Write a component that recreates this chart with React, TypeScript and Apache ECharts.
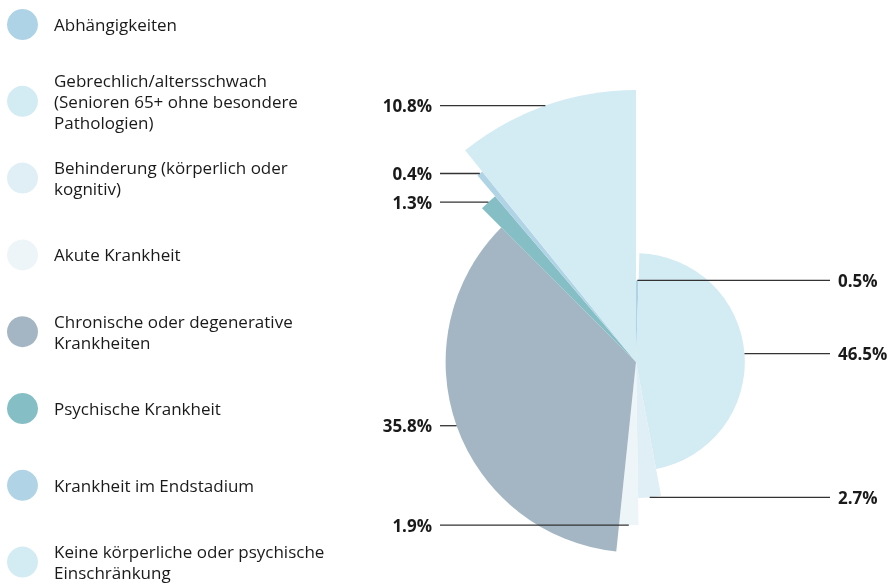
import React, { useEffect, useRef } from "react";
import * as echarts from "echarts";

const categories = [
  "Abhängigkeiten",
  "Gebrechlich/altersschwach\n(Senioren 65+ ohne besondere\nPathologien)",
  "Behinderung (körperlich oder\nkognitiv)",
  "Akute Krankheit",
  "Chronische oder degenerative\nKrankheiten",
  "Psychische Krankheit",
  "Krankheit im Endstadium",
  "Keine körperliche oder psychische\nEinschränkung",
];
const shares = [0.5, 46.5, 2.7, 1.9, 35.8, 1.3, 0.4, 10.8];
const radii = [30, 40, 50, 60, 70, 80, 90, 100];
const colors = ["#aed3e6", "#d3ebf2", "#dfeff5", "#edf5f9", "#a4b6c3", "#85bfc5", "#b0d4e6", "#d3ebf2"];

const FONT = "'Open Sans', 'DejaVu Sans', sans-serif";
const LINE_LEFT = 440;
const LINE_RIGHT = 830;

export default function App() {
  const ref = useRef<HTMLDivElement>(null);
  useEffect(() => {
    if (!ref.current) return;
    const chart = echarts.init(ref.current, null, { renderer: "svg" });
    const total = shares.reduce((a, b) => a + b, 0);
    const starts: number[] = [];
    let acc = 0;
    shares.forEach((v) => {
      starts.push(acc);
      acc += v;
    });

    const series = categories.map((name, i) => ({
      type: "custom",
      name,
      coordinateSystem: "polar",
      silent: true,
      itemStyle: { color: colors[i] },
      dimensions: ["start", "end", "r"],
      encode: { radius: 2, angle: [0, 1] },
      data: [[starts[i], starts[i] + shares[i], radii[i]]],
      renderItem: (params: any, api: any) => {
        const a0 = api.value(0);
        const a1 = api.value(1);
        const rv = api.value(2);
        const cs = params.coordSys;
        const p0 = api.coord([rv, a0]);
        const p1 = api.coord([rv, a1]);
        const pm = api.coord([rv, (a0 + a1) / 2]);
        const s = -p0[3];
        let e = -p1[3];
        while (e <= s) e += Math.PI * 2;
        const left = pm[0] < cs.cx;
        const lineEnd = left ? LINE_LEFT : LINE_RIGHT;
        return {
          type: "group",
          children: [
            {
              type: "sector",
              z2: 0,
              shape: { cx: cs.cx, cy: cs.cy, r0: 0, r: p0[2], startAngle: s, endAngle: e, clockwise: true },
              style: { fill: colors[i] },
            },
            {
              type: "line",
              z2: 20,
              shape: { x1: pm[0], y1: pm[1], x2: lineEnd, y2: pm[1] },
              style: { stroke: "#333333", lineWidth: 1.3 },
            },
            {
              type: "text",
              z2: 20,
              x: left ? lineEnd - 8 : lineEnd + 8,
              y: pm[1],
              style: {
                text: shares[i].toFixed(1) + "%",
                fill: "#1a1a1a",
                fontFamily: FONT,
                fontSize: 17,
                fontWeight: "bold",
                align: left ? "right" : "left",
                verticalAlign: "middle",
              },
            },
          ],
        };
      },
    }));

    const legends = categories.map((name, i) => {
      const nLines = name.split("\n").length;
      const h = Math.max(31, nLines * 21);
      const centerY = 24.5 + i * 76.8;
      return {
        data: [name],
        orient: "vertical",
        left: 7,
        top: centerY - h / 2,
        padding: 0,
        icon: "circle",
        itemWidth: 31,
        itemHeight: 31,
        selectedMode: false,
        textStyle: {
          fontFamily: FONT,
          fontSize: 17,
          lineHeight: 21,
          color: "#1a1a1a",
          padding: [0, 0, 0, 11],
        },
      };
    });

    chart.setOption({
      animation: false,
      polar: { center: [636, 362], radius: 272 },
      angleAxis: {
        type: "value",
        min: 0,
        max: total,
        startAngle: 90,
        clockwise: true,
        show: false,
        axisLine: { show: false },
        axisTick: { show: false },
        axisLabel: { show: false },
        splitLine: { show: false },
      },
      radiusAxis: {
        type: "value",
        min: 0,
        max: 100,
        show: false,
        axisLine: { show: false },
        axisTick: { show: false },
        axisLabel: { show: false },
        splitLine: { show: false },
      },
      legend: legends,
      series,
    });
    return () => chart.dispose();
  }, []);
  return <div ref={ref} style={{ position: "fixed", left: 0, top: 0, width: 888, height: 586 }} />;
}
